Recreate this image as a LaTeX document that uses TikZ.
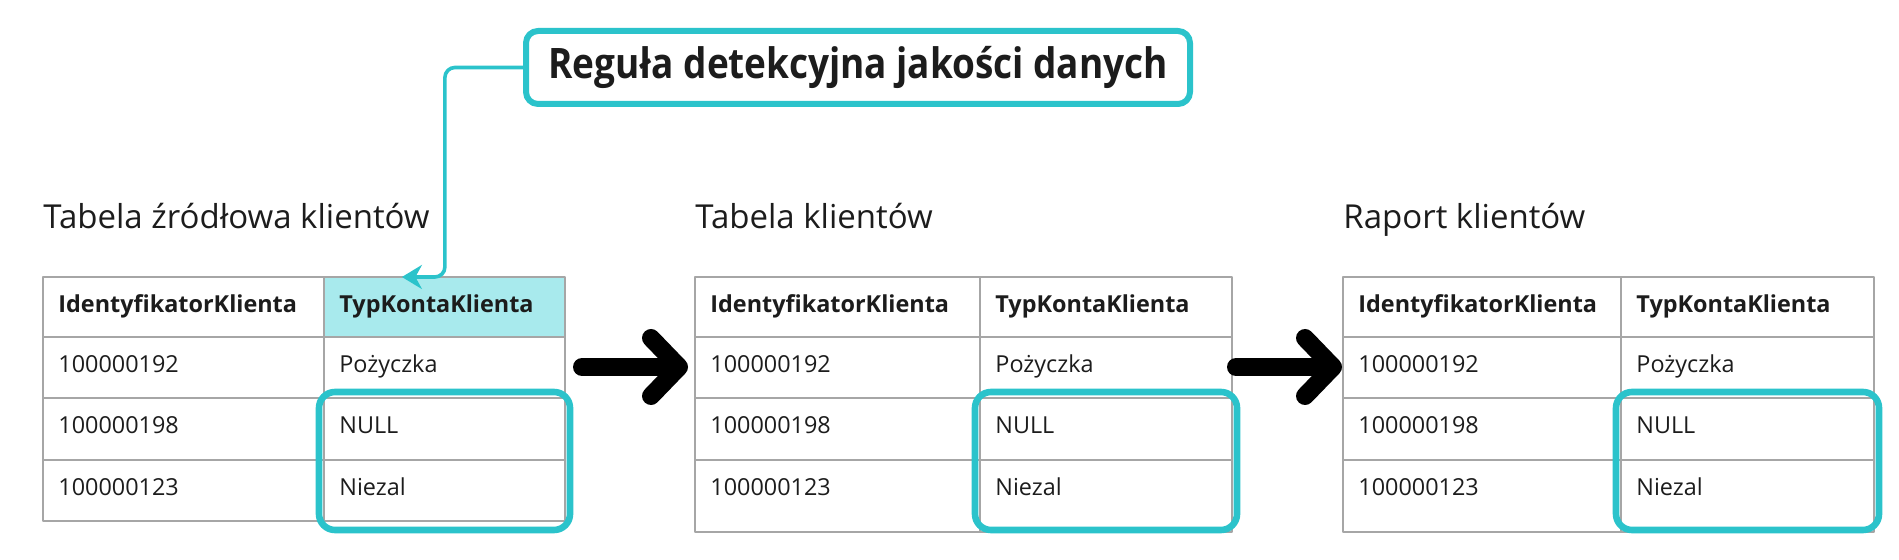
\documentclass[tikz,border=0pt]{standalone}
\usepackage{fontspec}
\setmainfont{Open Sans}
\newfontfamily\regulafont{Open Sans}[FakeStretch=0.88]
\usetikzlibrary{arrows.meta,positioning}
\definecolor{turkus}{HTML}{2BC3CB}
\definecolor{jasnyturkus}{HTML}{A8EAED}
\definecolor{siatka}{HTML}{A6A6A6}
\definecolor{tekst}{HTML}{1C1C1C}
\tikzset{
	siatka/.style={draw=siatka, line width=1pt},
	naglowek/.style={anchor=base west, inner sep=0pt, font=\fontsize{11.7}{14}\selectfont\bfseries, text=tekst},
	komorka/.style={anchor=base west, inner sep=0pt, font=\fontsize{11.7}{14}\selectfont, text=tekst},
	podpis/.style={anchor=base west, inner sep=0pt, font=\fontsize{16.5}{20}\selectfont, text=tekst},
	zaznacz/.style={draw=turkus, line width=3.3pt, rounded corners=8pt},
	przejscie/.style={line width=9pt, line cap=round, -{Straight Barb[length=14pt, width=29pt, line join=round, line cap=round]}},
	regula/.style={draw=turkus, line width=3pt, rounded corners=6pt, fill=white, minimum width=332pt, minimum height=36.5pt, inner sep=0pt, font=\regulafont\fontsize{21}{24}\selectfont\bfseries, text=tekst},
	lacznik/.style={draw=turkus, line width=1.8pt, rounded corners=5pt, -{Stealth[length=10pt, width=12pt]}},
}
\begin{document}
\begin{tikzpicture}[x=0.5pt, y=-0.5pt, line join=round]
	%%%%%%%%%%%%%%%%%%%%%%%%%%%%%%%%%
	\useasboundingbox (0,0) rectangle (1899,560);
	\node[fill=jasnyturkus, anchor=north west, inner sep=0pt, minimum width=120.5pt, minimum height=30pt] (src-pole) at (324,277) {};
	%%%%%%%%%%%%%%%%%%%%%%%%%%%%%%%%%
	\foreach \t/\xa/\xb/\xc/\yz/\tytul in {src/43/324/565/521/{Tabela źródłowa klientów},
		tab/695/980/1232/532/{Tabela klientów},
		rep/1343/1621/1874/532/{Raport klientów}}{
		\node[podpis] (\t-tytul) at (\xa,229) {\tytul};
		\draw[siatka] (\xa,277) rectangle (\xc,\yz);
		\foreach \y in {337,398,460} \draw[siatka] (\xa,\y) -- (\xc,\y);
		\draw[siatka] (\xb,277) -- (\xb,\yz);
		\node[naglowek] (\t-id) at (\xa+15,313) {IdentyfikatorKlienta};
		\node[naglowek] (\t-typ) at (\xb+15,313) {TypKontaKlienta};
		\node[komorka] (\t-id1) at (\xa+15,373) {100000192};
		\node[komorka] (\t-id2) at (\xa+15,434) {100000198};
		\node[komorka] (\t-id3) at (\xa+15,495) {100000123};
		\node[komorka] (\t-typ1) at (\xb+15,373) {Pożyczka};
		\node[komorka] (\t-typ2) at (\xb+15,434) {NULL};
		\node[komorka] (\t-typ3) at (\xb+15,495) {Niezal};
		\draw[zaznacz] (\xb-5,392) rectangle (\xc+5,530);
		\coordinate (\t-w) at (\xa,367);
		\coordinate (\t-e) at (\xc,367);
	}
	%%%%%%%%%%%%%%%%%%%%%%%%%%%%%%%%%
	\draw[przejscie, shorten <=8.5pt, shorten >=3.5pt] (src-e) -- (tab-w);
	\draw[przejscie, shorten <=2pt, shorten >=0.5pt] (tab-e) -- (rep-w);
	%%%%%%%%%%%%%%%%%%%%%%%%%%%%%%%%%
	\node[regula] (regula) at (858,67.5) {Reguła detekcyjna jakości danych};
	\draw[lacznik] (regula.west) -| (src-pole.north) -- ++(-43,0);
\end{tikzpicture}
\end{document}
